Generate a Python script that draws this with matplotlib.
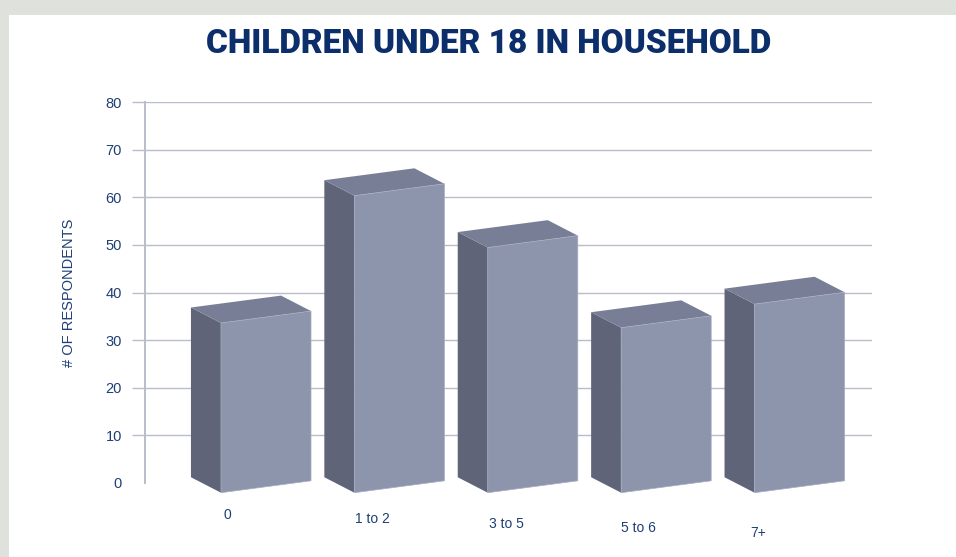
import matplotlib.pyplot as plt
from matplotlib.patches import Polygon, Rectangle

# Children under 18 per household, number of respondents
categories = ['0', '1 to 2', '3 to 5', '5 to 6', '7+']
respondents = [36, 63, 52, 35, 40]
y_ticks = [0, 10, 20, 30, 40, 50, 60, 70, 80]

W, H = 956, 557
navy = '#0c2e6a'
label_navy = '#1e3e76'
grid_col = '#b9bccb'
front_col = '#8d95ad'
side_col = '#5f6479'
top_col = '#787e96'

fig = plt.figure(figsize=(W / 100, H / 100), dpi=100)
fig.patch.set_facecolor('#dfe1dc')
fig.add_artist(Rectangle((8.7 / W, 0), 1 - 8.7 / W, 1 - 14.7 / H,
                         transform=fig.transFigure, facecolor='white',
                         edgecolor='none', zorder=0))

fig.text(489 / W, 1 - 44 / H, 'CHILDREN UNDER 18 IN HOUSEHOLD',
         ha='center', va='center', color=navy, fontsize=24, fontweight='black',
         family=['Roboto', 'DejaVu Sans'])

ax = fig.add_axes([145 / W, (H - 483) / H, (872 - 145) / W, (483 - 102) / H])
ax.set_facecolor('none')
ax.set_xlim(-0.907, 4.543)
ax.set_ylim(0, 80)

# axis and grid
for s in ['top', 'right', 'bottom']:
    ax.spines[s].set_visible(False)
ax.spines['left'].set_color(grid_col)
ax.spines['left'].set_linewidth(1.4)
ax.set_yticks(y_ticks)
ax.set_xticks([])
ax.tick_params(axis='y', length=9.6, width=1.0, color=grid_col, pad=7,
               labelsize=10.5, labelcolor=label_navy)
for lab in ax.get_yticklabels():
    lab.set_family('Liberation Sans')
ax.yaxis.grid(True, color=grid_col, linewidth=1.0)
ax.set_axisbelow(True)
first = ax.yaxis.get_major_ticks()[0]
first.tick1line.set_visible(False)
first.gridline.set_visible(False)

ax.set_ylabel('# OF RESPONDENTS', fontsize=10.5, color=label_navy,
              family='Liberation Sans', labelpad=21)

# pseudo-3D bars
w = 0.675        # front face width
dx = -0.225      # depth shift to the left
dy = 3.25        # depth shift upward
base = -2.04     # front-left bottom corner
rise = 2.5       # tilt of the front face
shrink = 0.99    # perspective scale of bar heights
label_dx = [-0.29, -0.2, -0.2, -0.21, -0.31]

for i, v in enumerate(respondents):
    h = v * shrink
    xl, xr = i - w / 2, i + w / 2
    bl, br = base, base + rise
    tl, tr = base + h, base + rise + h
    side = [(xl, bl), (xl, tl), (xl + dx, tl + dy), (xl + dx, bl + dy)]
    top = [(xl, tl), (xr, tr), (xr + dx, tr + dy), (xl + dx, tl + dy)]
    front = [(xl, bl), (xr, br), (xr, tr), (xl, tl)]
    ax.add_patch(Polygon(side, closed=True, facecolor=side_col,
                         edgecolor='none', zorder=3, clip_on=False))
    ax.add_patch(Polygon(top, closed=True, facecolor=top_col,
                         edgecolor='none', zorder=3, clip_on=False))
    ax.add_patch(Polygon(front, closed=True, facecolor=front_col,
                         edgecolor='#a7acbf', linewidth=0.5, zorder=4,
                         clip_on=False))
    ax.text(i + label_dx[i], -6.7 - 0.95 * i, categories[i], ha='center',
            va='center', fontsize=10, color=label_navy,
            family='Liberation Sans', clip_on=False)

fig.savefig('out.png', dpi=100, facecolor=fig.get_facecolor())
